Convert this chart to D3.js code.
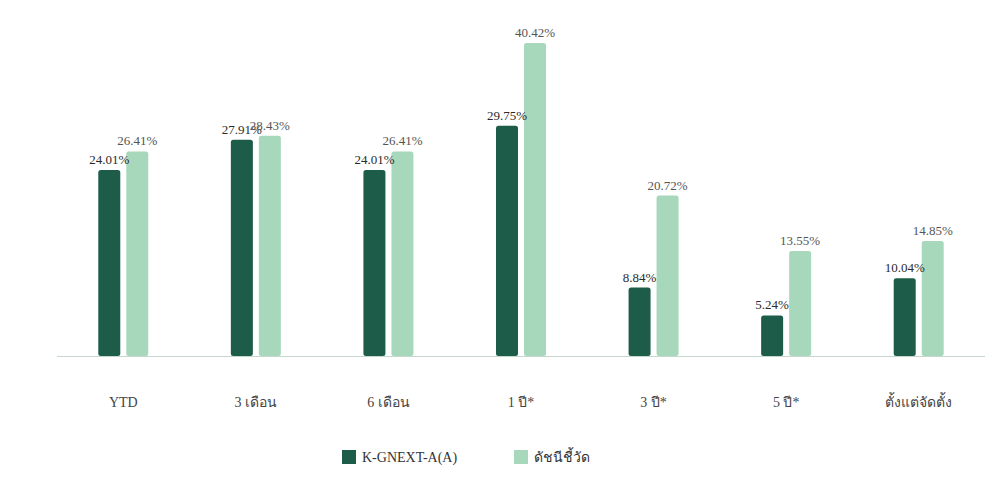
<!DOCTYPE html>
<html>
<head>
<meta charset="utf-8">
<script src="https://cdn.jsdelivr.net/npm/d3@7"></script>
<style>
  body { margin: 0; background: #fff; }
  text { font-family: "Liberation Serif", "Times New Roman", serif; }
</style>
</head>
<body>
<script>
const width = 999;
const height = 485;

// data
const categories = ["YTD", "3 เดือน", "6 เดือน", "1 ปี*", "3 ปี*", "5 ปี*", "ตั้งแต่จัดตั้ง"];
const seriesNames = ["K-GNEXT-A(A)", "ดัชนีชี้วัด"];
const fundValues = [24.01, 27.91, 24.01, 29.75, 8.84, 5.24, 10.04];
const benchValues = [26.41, 28.43, 26.41, 40.42, 20.72, 13.55, 14.85];
const colors = ["#1d5c49", "#a8d8bc"];

const margin = { left: 57, right: 14, top: 43, bottom: 130 };
const baseY = 356;

const svg = d3.select("body").append("svg")
  .attr("width", width)
  .attr("height", height);

const x = d3.scaleBand()
  .domain(categories)
  .range([margin.left, width - margin.right]);

// two bars per group, 22px wide with a 6px gap
const xInner = d3.scaleBand()
  .domain([0, 1])
  .range([-25, 25])
  .paddingInner(6 / 28);

const y = d3.scaleLinear()
  .domain([0, 40.42])
  .range([baseY, 43]);

const rows = categories.map((c, i) => ({ c, vals: [fundValues[i], benchValues[i]] }));

// baseline
svg.append("line")
  .attr("x1", margin.left).attr("x2", width - margin.right)
  .attr("y1", baseY + 0.5).attr("y2", baseY + 0.5)
  .attr("stroke", "#c5d6cd").attr("stroke-width", 1);

const g = svg.selectAll("g.grp")
  .data(rows)
  .join("g")
  .attr("class", "grp")
  .attr("transform", d => "translate(" + (x(d.c) + x.bandwidth() / 2) + ",0)");

g.selectAll("rect")
  .data(d => d.vals)
  .join("rect")
  .attr("x", (d, i) => xInner(i))
  .attr("y", d => y(d))
  .attr("width", xInner.bandwidth())
  .attr("height", d => baseY - y(d))
  .attr("rx", 2.5)
  .attr("fill", (d, i) => colors[i]);

g.selectAll("text.val")
  .data(d => d.vals)
  .join("text")
  .attr("class", "val")
  .attr("x", (d, i) => xInner(i) + xInner.bandwidth() / 2)
  .attr("y", d => y(d) - 6)
  .attr("text-anchor", "middle")
  .attr("font-size", 13)
  .attr("fill", (d, i) => i === 0 ? "#2b2b2b" : "#555")
  .text(d => d.toFixed(2) + "%");

// x labels
svg.selectAll("text.cat")
  .data(categories)
  .join("text")
  .attr("class", "cat")
  .attr("x", d => x(d) + x.bandwidth() / 2)
  .attr("y", 407)
  .attr("text-anchor", "middle")
  .attr("font-size", 14)
  .attr("fill", "#444")
  .text(d => d);

// legend
const legendX = [342, 514];
const leg = svg.selectAll("g.leg")
  .data(seriesNames)
  .join("g")
  .attr("class", "leg")
  .attr("transform", (d, i) => "translate(" + legendX[i] + ",450)");

leg.append("rect")
  .attr("width", 14).attr("height", 14)
  .attr("fill", (d, i) => colors[i]);

leg.append("text")
  .attr("x", 20).attr("y", 12)
  .attr("font-size", 14)
  .attr("fill", "#333")
  .text(d => d);
</script>
</body>
</html>
